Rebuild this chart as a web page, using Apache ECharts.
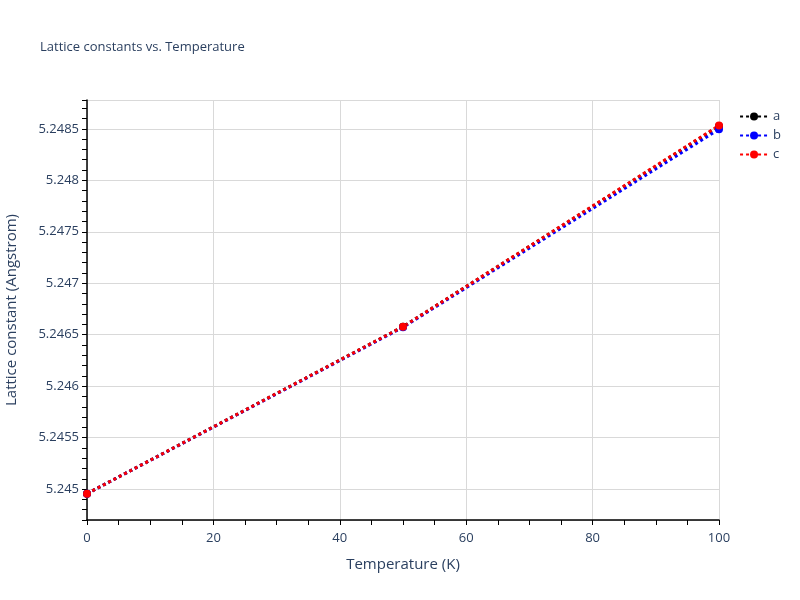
<!DOCTYPE html>
<html>
<head>
<meta charset="utf-8">
<script src="https://cdn.jsdelivr.net/npm/echarts@6/dist/echarts.min.js"></script>
<style>html,body{margin:0;padding:0;background:#fff}#c{width:800px;height:600px}</style>
</head>
<body>
<div id="c"></div>
<script>
var temperatures = [0, 50, 100];
var seriesA = [5.244956, 5.246578, 5.248526];
var seriesB = [5.244956, 5.246572, 5.248496];
var seriesC = [5.244956, 5.246578, 5.248532];
var seriesNames = ['a', 'b', 'c'];
var seriesColors = ['#000000', '#0000ff', '#ff0000'];

var chart = echarts.init(document.getElementById('c'));
var txt = '#2a3f5f';
function mk(name, vals, color) {
  return {
    name: name, type: 'line',
    data: temperatures.map(function (t, i) { return [t, vals[i]]; }),
    symbol: 'circle', symbolSize: 8,
    itemStyle: { color: color },
    lineStyle: { color: color, width: 3, type: [3, 3] },
    emphasis: { disabled: true }
  };
}
chart.setOption({
  animation: false,
  backgroundColor: '#fff',
  title: { text: 'Lattice constants vs. Temperature', left: 35, top: 36,
    textStyle: { color: txt, fontSize: 13, fontWeight: 'normal', fontFamily: 'Open Sans, sans-serif' } },
  legend: {
    right: 14, top: 105, orient: 'vertical', itemGap: 6,
    itemWidth: 28, itemHeight: 10,
    textStyle: { color: txt, fontSize: 13, fontFamily: 'Open Sans, sans-serif' },
    data: seriesNames
  },
  grid: { left: 87, right: 81, top: 100, bottom: 80, containLabel: false, outerBoundsMode: 'none' },
  xAxis: {
    type: 'value', min: 0, max: 100, interval: 20,
    name: 'Temperature (K)', nameLocation: 'middle', nameGap: 37,
    nameTextStyle: { color: txt, fontSize: 15, fontFamily: 'Open Sans, sans-serif' },
    axisLine: { lineStyle: { color: '#000', width: 1.5 } },
    axisTick: { show: true, length: 5, lineStyle: { color: '#000' } },
    minorTick: { show: true, splitNumber: 4, length: 5, lineStyle: { color: '#000' } },
    axisLabel: { color: txt, fontSize: 13, margin: 12, fontFamily: 'Open Sans, sans-serif' },
    splitLine: { show: true, lineStyle: { color: '#d9d9d9' } }
  },
  yAxis: {
    type: 'value', min: 5.2447, max: 5.24878, splitNumber: 8,
    name: 'Lattice constant (Angstrom)', nameLocation: 'middle', nameGap: 68,
    nameTextStyle: { color: txt, fontSize: 15, fontFamily: 'Open Sans, sans-serif' },
    axisLine: { show: true, lineStyle: { color: '#000', width: 1.5 } },
    axisTick: { show: true, length: 5, lineStyle: { color: '#000' } },
    minorTick: { show: true, splitNumber: 5, length: 5, lineStyle: { color: '#000' } },
    axisLabel: { color: txt, fontSize: 13, margin: 8, showMinLabel: false, showMaxLabel: false,
      fontFamily: 'Open Sans, sans-serif',
      formatter: function (v) { return String(parseFloat(v.toFixed(6))); } },
    splitLine: { show: true, lineStyle: { color: '#d9d9d9' } }
  },
  series: [
    mk(seriesNames[0], seriesA, seriesColors[0]),
    mk(seriesNames[1], seriesB, seriesColors[1]),
    mk(seriesNames[2], seriesC, seriesColors[2])
  ]
});
</script>
</body>
</html>
